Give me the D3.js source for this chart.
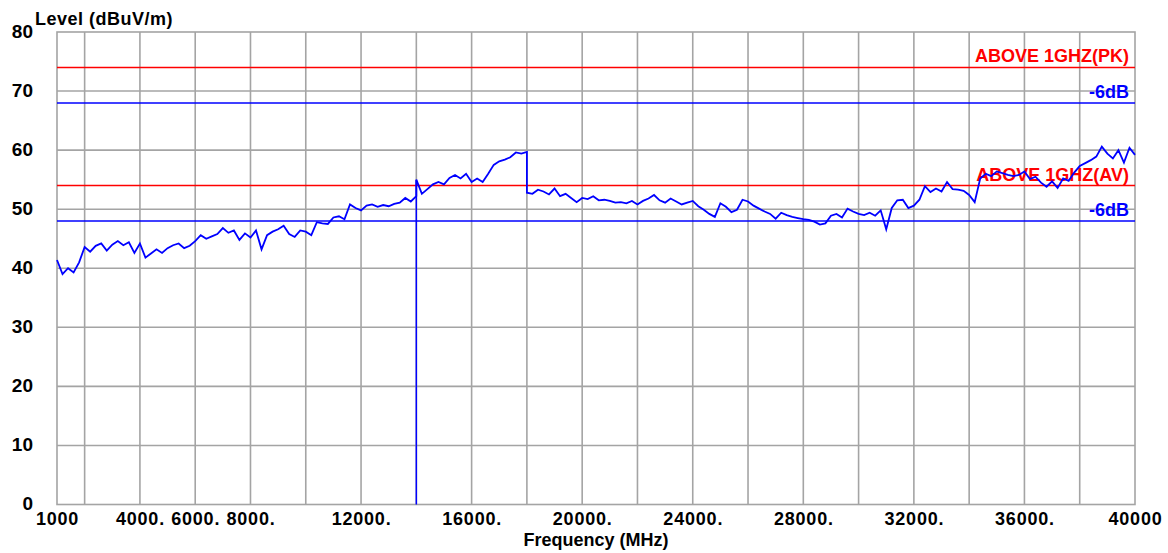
<!DOCTYPE html>
<html>
<head>
<meta charset="utf-8">
<script src="https://cdn.jsdelivr.net/npm/d3@7"></script>
<style>
  html, body { margin: 0; padding: 0; background: #ffffff; }
  svg { display: block; font-family: "Liberation Sans", Arial, sans-serif; }
</style>
</head>
<body>
<svg id="chart" width="1168" height="553"></svg>
<script>
// ---------------- DATA ----------------
const xTickValues = [1000, 4000, 6000, 8000, 12000, 16000, 20000, 24000, 28000, 32000, 36000, 40000];
const xTickLabels = ["1000", "4000.", "6000.", "8000.", "12000.", "16000.", "20000.", "24000.", "28000.", "32000.", "36000.", "40000"];
const xGridValues = [2000, 4000, 6000, 8000, 10000, 12000, 14000, 16000, 18000, 20000, 22000, 24000, 26000, 28000, 30000, 32000, 34000, 36000, 38000];
const yTickValues = [0, 10, 20, 30, 40, 50, 60, 70, 80];

// Limit lines (dBuV/m)
const limitNames  = ["ABOVE 1GHZ(PK)", "-6dB", "ABOVE 1GHZ(AV)", "-6dB"];
const limitLevels = [74, 68, 54, 48];
const limitColors = ["#ff0000", "#0000ff", "#ff0000", "#0000ff"];

// Trace segments, sampled every 200 MHz
const segAStart = 1000;   // 1000 .. 14000 MHz
const segALevels = [
  41.4, 39.0, 40.0, 39.3, 41.0, 43.6, 42.8, 43.8, 44.2, 43.0,
  44.0, 44.6, 43.9, 44.4, 42.6, 44.2, 41.8, 42.5, 43.2, 42.6,
  43.4, 43.9, 44.2, 43.4, 43.8, 44.6, 45.6, 45.0, 45.4, 45.8,
  46.8, 46.0, 46.4, 44.8, 45.9, 45.2, 46.4, 43.2, 45.6, 46.2,
  46.6, 47.2, 45.8, 45.3, 46.4, 46.2, 45.6, 47.8, 47.6, 47.5,
  48.6, 48.8, 48.3, 50.8, 50.2, 49.8, 50.6, 50.8, 50.4, 50.7,
  50.5, 50.9, 51.1, 51.9, 51.3, 52.2
];
const segBStart = 14000;  // 14000 .. 18000 MHz
const segBLevels = [
  55.0, 52.6, 53.4, 54.2, 54.6, 54.2, 55.3, 55.8, 55.2, 56.0,
  54.6, 55.2, 54.6, 56.0, 57.5, 58.1, 58.4, 58.8, 59.6, 59.4,
  59.7
];
const segCStart = 18000;  // 18000 .. 40000 MHz
const segCLevels = [
  52.8, 52.6, 53.3, 53.0, 52.5, 53.5, 52.2, 52.6, 51.9, 51.2,
  51.9, 51.7, 52.2, 51.5, 51.6, 51.4, 51.1, 51.2, 51.0, 51.4,
  50.8, 51.4, 51.8, 52.4, 51.5, 51.1, 51.8, 51.3, 50.8, 51.1,
  51.4, 50.5, 49.9, 49.2, 48.7, 51.0, 50.4, 49.5, 49.9, 51.6,
  51.3, 50.6, 50.1, 49.6, 49.2, 48.4, 49.4, 49.0, 48.7, 48.5,
  48.3, 48.2, 47.9, 47.4, 47.6, 48.9, 49.2, 48.6, 50.1, 49.6,
  49.2, 49.0, 49.4, 48.9, 49.8, 46.6, 50.2, 51.5, 51.6, 50.2,
  50.6, 51.6, 53.9, 52.9, 53.5, 53.0, 54.6, 53.4, 53.3, 53.1,
  52.4, 51.2, 55.2, 56.0, 55.6, 56.4, 56.1, 55.8, 55.6, 55.8,
  56.4, 55.1, 55.5, 54.5, 53.8, 54.7, 53.6, 55.2, 54.8, 56.2,
  57.3, 57.8, 58.3, 58.9, 60.6, 59.4, 58.6, 60.0, 57.9, 60.4,
  59.2
];
const segStep = 200;
const markerFreq = 14000;
const markerLevel = 55.0;

// ---------------- CHART ----------------
const svg = d3.select("#chart");
const mLeft = 57, mRight = 1135, mTop = 32, mBottom = 504.5;

const x = d3.scaleLinear().domain([1000, 40000]).range([mLeft, mRight]);
const y = d3.scaleLinear().domain([0, 80]).range([mBottom, mTop]);

const gridColor = "#a4a4a4";

// grid
const grid = svg.append("g");
grid.selectAll("line.gx").data(xGridValues).enter().append("line")
  .attr("x1", d => x(d)).attr("x2", d => x(d))
  .attr("y1", mTop).attr("y2", mBottom)
  .attr("stroke", gridColor).attr("stroke-width", 1.6);
grid.selectAll("line.gy").data(yTickValues.slice(1, -1)).enter().append("line")
  .attr("x1", mLeft).attr("x2", mRight)
  .attr("y1", d => y(d)).attr("y2", d => y(d))
  .attr("stroke", gridColor).attr("stroke-width", 1.6);
grid.append("rect")
  .attr("x", mLeft).attr("y", mTop)
  .attr("width", mRight - mLeft).attr("height", mBottom - mTop)
  .attr("fill", "none").attr("stroke", gridColor).attr("stroke-width", 1.6);

// limit lines
const limits = limitLevels.map((v, i) => ({ v, name: limitNames[i], color: limitColors[i] }));
const lg = svg.append("g");
lg.selectAll("line").data(limits).enter().append("line")
  .attr("x1", mLeft).attr("x2", mRight)
  .attr("y1", d => y(d.v)).attr("y2", d => y(d.v))
  .attr("stroke", d => d.color).attr("stroke-width", 1.5);

// limit labels (drawn beneath the trace)
const lt = svg.append("g");
lt.selectAll("text").data(limits).enter().append("text")
  .attr("x", mRight - 6).attr("y", d => y(d.v) - 5)
  .attr("text-anchor", "end")
  .attr("fill", d => d.color)
  .attr("font-size", 18).attr("font-weight", "bold")
  .text(d => d.name);

// trace
const pts = [];
segALevels.forEach((v, i) => pts.push([segAStart + i * segStep, v]));
segBLevels.forEach((v, i) => pts.push([segBStart + i * segStep, v]));
segCLevels.forEach((v, i) => pts.push([segCStart + i * segStep, v]));

const line = d3.line().x(d => x(d[0])).y(d => y(d[1]));
svg.append("path").datum(pts)
  .attr("d", line)
  .attr("fill", "none").attr("stroke", "#0000ff").attr("stroke-width", 1.8)
  .attr("stroke-linejoin", "miter");

// marker vertical line
svg.append("line")
  .attr("x1", x(markerFreq)).attr("x2", x(markerFreq))
  .attr("y1", y(markerLevel)).attr("y2", y(0))
  .attr("stroke", "#0000ff").attr("stroke-width", 1.5);

// y axis labels
const yAxis = d3.axisLeft(y).tickValues(yTickValues).tickSize(0).tickPadding(0).tickFormat(d3.format("d"));
const yg = svg.append("g").attr("transform", `translate(${mLeft - 24},0)`).call(yAxis);
yg.select(".domain").remove();
yg.selectAll("text")
  .attr("font-family", "'Liberation Sans', Arial, sans-serif")
  .attr("font-size", 19).attr("font-weight", "bold").attr("fill", "#000")
  .attr("dy", "0.28em");

// x axis labels
const xAxis = d3.axisBottom(x).tickValues(xTickValues).tickSize(0).tickPadding(0)
  .tickFormat((d, i) => xTickLabels[i]);
const xg = svg.append("g").attr("transform", `translate(0,${mBottom + 8})`).call(xAxis);
xg.select(".domain").remove();
xg.selectAll("text")
  .attr("font-family", "'Liberation Sans', Arial, sans-serif")
  .attr("font-size", 18).attr("font-weight", "bold").attr("fill", "#000")
  .attr("letter-spacing", 0.8)
  .attr("dy", "0.71em");

// titles
svg.append("text").attr("x", 35).attr("y", 25)
  .attr("font-size", 18).attr("font-weight", "bold").attr("letter-spacing", 0.5)
  .text("Level (dBuV/m)");
svg.append("text").attr("x", (mLeft + mRight) / 2).attr("y", 546)
  .attr("text-anchor", "middle")
  .attr("font-size", 18).attr("font-weight", "bold")
  .text("Frequency (MHz)");
</script>
</body>
</html>
